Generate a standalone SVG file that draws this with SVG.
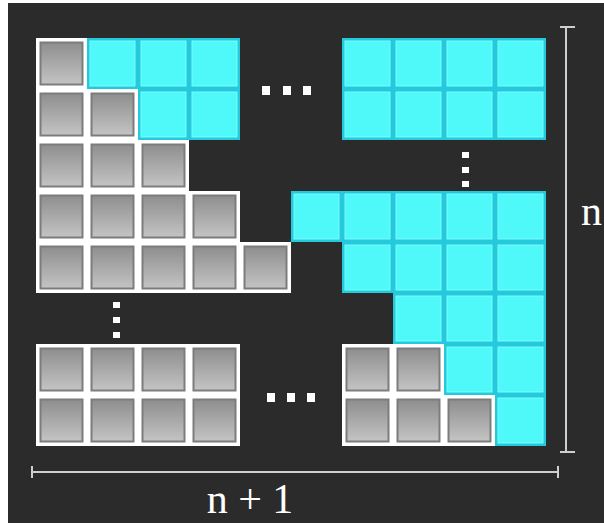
<svg xmlns="http://www.w3.org/2000/svg" xmlns:xlink="http://www.w3.org/1999/xlink" width="604" height="523" viewBox="0 0 604 523">
<defs>
<linearGradient id="gg" x1="0" y1="0" x2="0" y2="1">
<stop offset="0" stop-color="#8e8e8e"/>
<stop offset="1" stop-color="#c4c4c4"/>
</linearGradient>
<g id="gc">
<rect width="51" height="51" fill="#ffffff"/>
<rect x="4.5" y="4.5" width="42" height="42" fill="url(#gg)" stroke="#7c7c7c" stroke-width="2"/>
</g>
<g id="cc">
<rect width="51" height="51" fill="#25c9dc"/>
<rect x="3" y="3" width="45" height="45" fill="#4ff9fa" stroke="#7afcfc" stroke-width="1"/>
</g>
</defs>
<style>
.dot{fill:#ffffff}
.dim{stroke:#cfcfcf;stroke-width:2;fill:none}
.lbl{font-family:"Liberation Serif","Times New Roman",serif;fill:#ffffff}
</style>
<rect width="604" height="523" fill="#2b2b2b"/>
<rect x="0" y="0" width="8" height="523" fill="#ffffff"/>
<rect x="0" y="0" width="604" height="3" fill="#ffffff"/>

<g id="gray-left">
<use xlink:href="#gc" x="36" y="38"/>
<use xlink:href="#gc" x="36" y="89"/><use xlink:href="#gc" x="87" y="89"/>
<use xlink:href="#gc" x="36" y="140"/><use xlink:href="#gc" x="87" y="140"/><use xlink:href="#gc" x="138" y="140"/>
<use xlink:href="#gc" x="36" y="191"/><use xlink:href="#gc" x="87" y="191"/><use xlink:href="#gc" x="138" y="191"/><use xlink:href="#gc" x="189" y="191"/>
<use xlink:href="#gc" x="36" y="242"/><use xlink:href="#gc" x="87" y="242"/><use xlink:href="#gc" x="138" y="242"/><use xlink:href="#gc" x="189" y="242"/><use xlink:href="#gc" x="240" y="242"/>
<use xlink:href="#gc" x="36" y="344"/><use xlink:href="#gc" x="87" y="344"/><use xlink:href="#gc" x="138" y="344"/><use xlink:href="#gc" x="189" y="344"/>
<use xlink:href="#gc" x="36" y="395"/><use xlink:href="#gc" x="87" y="395"/><use xlink:href="#gc" x="138" y="395"/><use xlink:href="#gc" x="189" y="395"/>
</g>

<g id="cyan-left">
<use xlink:href="#cc" x="87" y="38"/><use xlink:href="#cc" x="138" y="38"/><use xlink:href="#cc" x="189" y="38"/>
<use xlink:href="#cc" x="138" y="89"/><use xlink:href="#cc" x="189" y="89"/>
</g>

<g id="cyan-right">
<use xlink:href="#cc" x="342" y="38"/><use xlink:href="#cc" x="393" y="38"/><use xlink:href="#cc" x="444" y="38"/><use xlink:href="#cc" x="495" y="38"/>
<use xlink:href="#cc" x="342" y="89"/><use xlink:href="#cc" x="393" y="89"/><use xlink:href="#cc" x="444" y="89"/><use xlink:href="#cc" x="495" y="89"/>
<use xlink:href="#cc" x="291" y="191"/><use xlink:href="#cc" x="342" y="191"/><use xlink:href="#cc" x="393" y="191"/><use xlink:href="#cc" x="444" y="191"/><use xlink:href="#cc" x="495" y="191"/>
<use xlink:href="#cc" x="342" y="242"/><use xlink:href="#cc" x="393" y="242"/><use xlink:href="#cc" x="444" y="242"/><use xlink:href="#cc" x="495" y="242"/>
<use xlink:href="#cc" x="393" y="293"/><use xlink:href="#cc" x="444" y="293"/><use xlink:href="#cc" x="495" y="293"/>
<use xlink:href="#cc" x="444" y="344"/><use xlink:href="#cc" x="495" y="344"/>
<use xlink:href="#cc" x="495" y="395"/>
</g>

<g id="gray-right">
<use xlink:href="#gc" x="342" y="344"/><use xlink:href="#gc" x="393" y="344"/>
<use xlink:href="#gc" x="342" y="395"/><use xlink:href="#gc" x="393" y="395"/><use xlink:href="#gc" x="444" y="395"/>
</g>

<g id="dots">
<rect class="dot" x="262" y="86" width="8" height="9"/>
<rect class="dot" x="283" y="86" width="8" height="9"/>
<rect class="dot" x="303" y="86" width="8" height="9"/>
<rect class="dot" x="462" y="152" width="7" height="6"/>
<rect class="dot" x="462" y="167" width="7" height="6"/>
<rect class="dot" x="462" y="181" width="7" height="6"/>
<rect class="dot" x="113" y="302" width="7" height="6"/>
<rect class="dot" x="113" y="317" width="7" height="6"/>
<rect class="dot" x="113" y="332" width="7" height="6"/>
<rect class="dot" x="267" y="393" width="8" height="9"/>
<rect class="dot" x="287" y="393" width="8" height="9"/>
<rect class="dot" x="307" y="393" width="8" height="9"/>
</g>

<g id="connectors">
<path class="dim" d="M566 27 V452 M560 27 H575 M560 452 H575"/>
<path class="dim" d="M32 472 H558 M32 466 V478 M558 466 V478"/>
</g>

<text class="lbl" x="581" y="225" font-size="42">n</text>
<text class="lbl" x="250" y="513" font-size="42" text-anchor="middle">n + 1</text>
</svg>
